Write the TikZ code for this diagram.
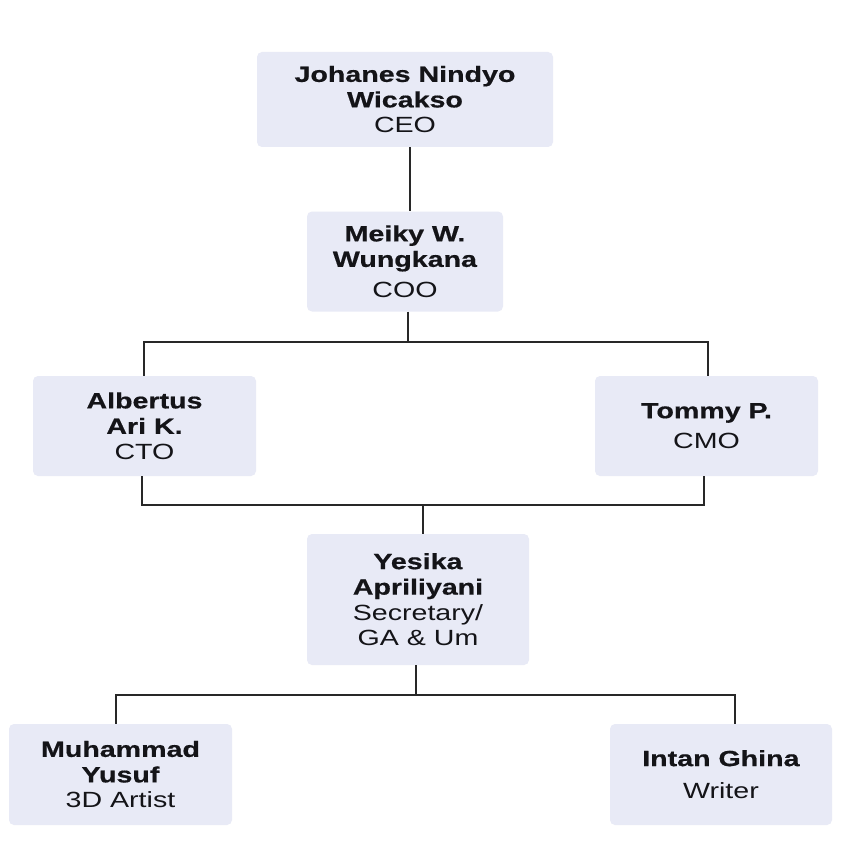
\documentclass[tikz,border=0pt]{standalone}
\usepackage{fontspec}
\setmainfont[FakeStretch=1.3,BoldFeatures={FakeBold=0.6}]{Liberation Sans}
\definecolor{boxfill}{RGB}{232,234,246}
\definecolor{txt}{RGB}{20,20,24}
\definecolor{linec}{RGB}{40,40,40}
\begin{document}
\begin{tikzpicture}[x=1pt,y=-1pt,
  box/.style={fill=boxfill, rounded corners=5pt, inner sep=0pt, align=center,
    text=txt, font=\fontsize{22}{25.5}\selectfont},
  conn/.style={draw=linec, line width=2pt}]
\useasboundingbox (0,0) rectangle (865,864);
\fill[white] (0,0) rectangle (865,864);

\node[box, minimum width=296pt, minimum height=95pt] (ceo) at (405,99.5)
  {\textbf{Johanes Nindyo}\\\textbf{Wicakso}\\CEO};
\node[box, minimum width=196pt, minimum height=100pt] (coo) at (405,261.5)
  {\textbf{Meiky W.}\\\textbf{Wungkana}\\[5pt]COO};
\node[box, minimum width=223pt, minimum height=100pt] (cto) at (144.5,426)
  {\textbf{Albertus}\\\textbf{Ari K.}\\CTO};
\node[box, minimum width=223pt, minimum height=100pt] (cmo) at (706.5,426)
  {\textbf{Tommy P.}\\[5pt]CMO};
\node[box, minimum width=222pt, minimum height=131pt] (yes) at (418,599.5)
  {\textbf{Yesika}\\\textbf{Apriliyani}\\Secretary/\\GA \& Um};
\node[box, minimum width=223pt, minimum height=101pt] (muh) at (120.5,774.5)
  {\textbf{Muhammad}\\\textbf{Yusuf}\\3D Artist};
\node[box, minimum width=222pt, minimum height=101pt] (int) at (721,774.5)
  {\textbf{Intan Ghina}\\[7pt]Writer};

\coordinate (c0) at (410,0);
\coordinate (b1m) at (408,342);
\coordinate (b1l) at (144,342);
\coordinate (b1r) at (708,342);
\coordinate (b2l) at (142,505);
\coordinate (b2r) at (704,505);
\coordinate (b2m) at (423,505);
\coordinate (b3m) at (416,695);
\coordinate (b3l) at (116,695);
\coordinate (b3r) at (735,695);

\draw[conn] (ceo.south -| c0) -- (coo.north -| c0);
\draw[conn] (coo.south -| b1m) -- (b1m);
\draw[conn] (cto.north -| b1l) -- (b1l) -- (b1r) -- (cmo.north -| b1r);
\draw[conn] (cto.south -| b2l) -- (b2l) -- (b2r) -- (cmo.south -| b2r);
\draw[conn] (b2m) -- (yes.north -| b2m);
\draw[conn] (yes.south -| b3m) -- (b3m);
\draw[conn] (muh.north -| b3l) -- (b3l) -- (b3r) -- (int.north -| b3r);
\end{tikzpicture}
\end{document}
